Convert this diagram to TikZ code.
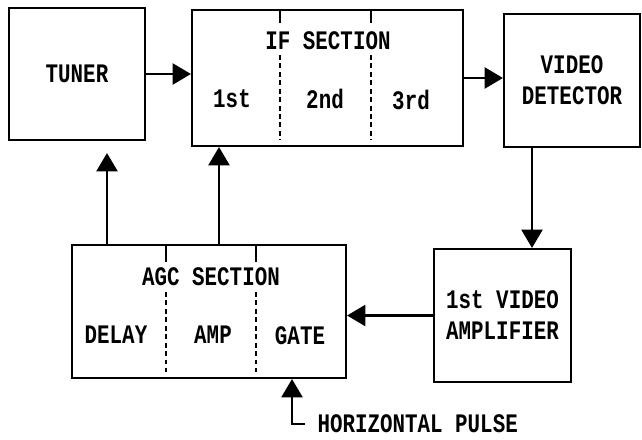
\documentclass[tikz,border=0pt]{standalone}
\usepackage{fontspec}
\setmonofont[FakeStretch=0.78]{Liberation Mono}
\usetikzlibrary{arrows.meta}

\begin{document}
\begin{tikzpicture}[x=0.025cm,y=-0.025cm,>={Triangle[length=13pt,width=15pt]},font=\ttfamily\bfseries\fontsize{19}{21}\selectfont]
  \tikzstyle{block}=[draw=black, line width=1.5pt, align=center, inner sep=2pt]
  \tikzstyle{arrow}=[->, line width=1.5pt, draw=black]
  \tikzstyle{tick}=[line width=1.5pt, draw=black]
  \tikzstyle{divider}=[line width=1.5pt, draw=black, dash pattern=on 3.5pt off 2.5pt]
  \tikzstyle{title}=[align=center, inner sep=1pt]

  \path[use as bounding box] (0,0) rectangle (642,439);

  \node[block, minimum width=3.4cm, minimum height=3.3cm] (tuner) at (77,74) {TUNER};

  \node[block, minimum width=6.775cm, minimum height=3.4cm] (ifsec) at (327.5,78) {};
  \node[title] (iftitle) at (328,41) {IF SECTION};
  \node[title] (iffirst) at (232,99) {1st};
  \node[title] (ifsecond) at (325,99) {2nd};
  \node[title] (ifthird) at (411,100) {3rd};
  \foreach \x in {280,371} {
    \draw[tick] (\x,10) -- (\x,23);
    \draw[divider] (\x,55) -- (\x,140);
  }

  \node[block, minimum width=3.4cm, minimum height=3.325cm] (viddet) at (572,80.5) {VIDEO\\[1pt]DETECTOR};

  \node[block, minimum width=6.85cm, minimum height=3.325cm] (agc) at (209,311.5) {};
  \node[title] (agctitle) at (211,277) {AGC SECTION};
  \node[title] (agcdelay) at (116,335) {DELAY};
  \node[title] (agcamp) at (213,335) {AMP};
  \node[title] (agcgate) at (300,336) {GATE};
  \foreach \x in {166,256} {
    \draw[tick] (\x,245) -- (\x,262);
    \draw[divider] (\x,292) -- (\x,372);
  }

  \node[block, minimum width=3.425cm, minimum height=3.325cm] (vidamp) at (502.5,315.5) {1st VIDEO\\[1pt]AMPLIFIER};

  \node[title, anchor=west] (hpulse) at (316,424) {HORIZONTAL PULSE};

  \coordinate (dlytap) at (107,0);
  \coordinate (amptap) at (219,0);
  \coordinate (vdtap) at (532,0);
  \coordinate (gatetap) at (292,0);

  \draw[arrow] (tuner.east) -- (tuner.east -| ifsec.west);
  \draw[arrow] (ifsec.east) -- (ifsec.east -| viddet.west);
  \draw[arrow] (viddet.south -| vdtap) -- (vidamp.north -| vdtap);
  \draw[arrow] (vidamp.west) -- (vidamp.west -| agc.east);
  \draw[arrow, shorten >=0.3cm] (agc.north -| dlytap) -- (tuner.south -| dlytap);
  \draw[arrow] (agc.north -| amptap) -- (ifsec.south -| amptap);
  \draw[arrow] ([xshift=-0.28cm]hpulse.west) -| (agc.south -| gatetap);
\end{tikzpicture}
\end{document}
